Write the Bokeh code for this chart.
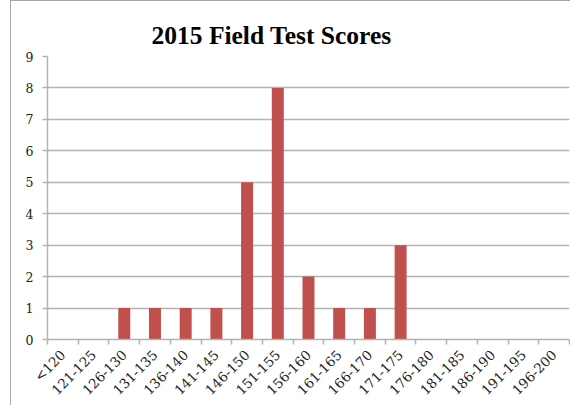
from math import pi
from bokeh.plotting import figure
from bokeh.models import FixedTicker, Range1d, ColumnDataSource
from bokeh.embed import file_html
from bokeh.resources import INLINE

categories = ["<120", "121-125", "126-130", "131-135", "136-140", "141-145",
              "146-150", "151-155", "156-160", "161-165", "166-170", "171-175",
              "176-180", "181-185", "186-190", "191-195", "196-200"]
counts = [0, 0, 1, 1, 1, 1, 5, 8, 2, 1, 1, 3, 0, 0, 0, 0, 0]
y_ticks = [0, 1, 2, 3, 4, 5, 6, 7, 8, 9]

n = len(categories)
centers = [i + 0.5 for i in range(n)]
src = ColumnDataSource(dict(x=centers, top=counts))

p = figure(width=560, height=405, output_backend="svg", toolbar_location=None,
           x_range=Range1d(0, n), y_range=Range1d(0, 9),
           min_border_left=36, min_border_right=2, min_border_top=55, min_border_bottom=67)
p.styles = {"border-left": "1px solid #a8a8a8", "border-top": "1px solid #a8a8a8",
            "margin-left": "10px"}

p.title.text = "2015 Field Test Scores"
p.title.align = "left"
p.title.offset = 104
p.title.vertical_align = "top"
p.title.text_font = "Liberation Serif"
p.title.text_font_size = "25.5px"
p.title.text_font_style = "bold"
p.title.text_color = "#000000"

p.vbar(x="x", top="top", width=0.39, source=src, fill_color="#C0504D", line_color=None)

grey = "#b3b3b3"
p.outline_line_color = None
p.xgrid.grid_line_color = None
p.ygrid.grid_line_color = grey
p.ygrid.grid_line_width = 1.5

p.yaxis.ticker = FixedTicker(ticks=y_ticks)
p.yaxis.axis_line_color = grey
p.yaxis.axis_line_width = 1.5
p.yaxis.major_tick_line_color = grey
p.yaxis.major_tick_line_width = 1.5
p.yaxis.major_tick_out = 5
p.yaxis.major_tick_in = 0
p.yaxis.minor_tick_line_color = None
p.yaxis.major_label_text_font = "DejaVu Serif"
p.yaxis.major_label_text_font_size = "12.5px"
p.yaxis.major_label_text_color = "#222222"
p.yaxis.major_label_standoff = 9

p.xaxis.ticker = FixedTicker(ticks=centers, minor_ticks=list(range(n + 1)))
p.xaxis.major_label_overrides = {c: lab for c, lab in zip(centers, categories)}
p.xaxis.major_label_orientation = pi / 4
p.xaxis.axis_line_color = grey
p.xaxis.axis_line_width = 1.5
p.xaxis.major_tick_line_color = None
p.xaxis.minor_tick_line_color = grey
p.xaxis.minor_tick_line_width = 1.5
p.xaxis.minor_tick_out = 5
p.xaxis.minor_tick_in = 0
p.xaxis.major_label_text_font = "DejaVu Serif"
p.xaxis.major_label_text_font_size = "13.5px"
p.xaxis.major_label_text_color = "#222222"
p.xaxis.major_label_standoff = 7

open("out.html", "w").write(file_html(p, INLINE))
